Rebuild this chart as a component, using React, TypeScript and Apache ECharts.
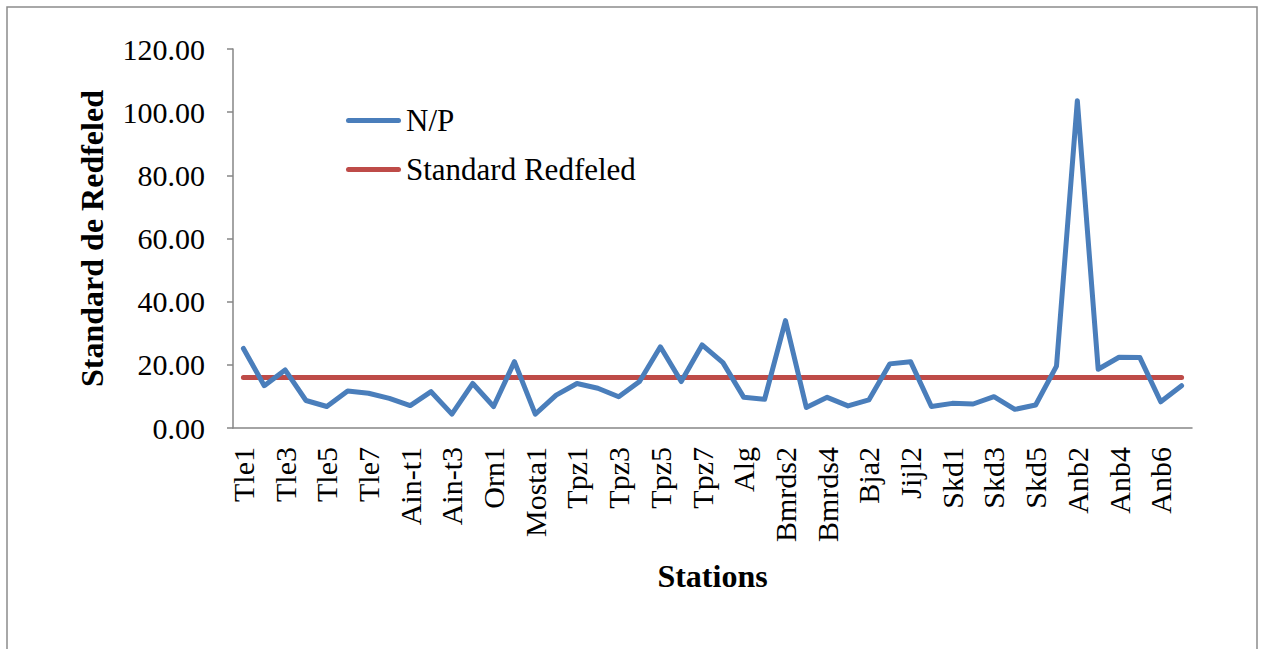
import React, { useEffect, useRef } from "react";
import * as echarts from "echarts";

const stations = [
  "Tle1", "Tle2", "Tle3", "Tle4", "Tle5", "Tle6", "Tle7", "Tle8",
  "Ain-t1", "Ain-t2", "Ain-t3", "Ain-t4", "Orn1", "Orn2", "Mosta1", "Mosta2",
  "Tpz1", "Tpz2", "Tpz3", "Tpz4", "Tpz5", "Tpz6", "Tpz7", "Tpz8",
  "Alg", "Bmrds1", "Bmrds2", "Bmrds3", "Bmrds4", "Bja1", "Bja2", "Jijl1",
  "Jijl2", "Jijl3", "Skd1", "Skd2", "Skd3", "Skd4", "Skd5", "Anb1",
  "Anb2", "Anb3", "Anb4", "Anb5", "Anb6", "Anb7",
];

const npValues = [
  25.2, 13.4, 18.4, 8.7, 6.8, 11.7, 11.0, 9.4,
  7.1, 11.5, 4.4, 14.1, 6.8, 21.0, 4.4, 10.4,
  14.1, 12.6, 9.9, 14.7, 25.7, 14.7, 26.3, 20.7,
  9.7, 9.1, 34.0, 6.5, 9.7, 7.0, 8.9, 20.3,
  21.0, 6.8, 7.8, 7.6, 9.9, 5.9, 7.3, 19.6,
  103.6, 18.6, 22.4, 22.3, 8.3, 13.4,
];

const redfieldValue = 16;
const redfieldValues = stations.map(() => redfieldValue);

const yTicks = { min: 0, max: 120, interval: 20 };

const FONT = '"Liberation Serif", "Times New Roman", serif';
const capsule = "path://M2.5,0 H52.5 A2.5,2.5 0 0 1 52.5,5 H2.5 A2.5,2.5 0 0 1 2.5,0 Z";

export default function App() {
  const ref = useRef<HTMLDivElement>(null);
  useEffect(() => {
    if (!ref.current) return;
    const chart = echarts.init(ref.current, null, { renderer: "svg" });
    chart.setOption({
      animation: false,
      backgroundColor: "#ffffff",
      graphic: [
        {
          type: "rect",
          shape: { x: 7, y: 7, width: 1250, height: 700 },
          style: { fill: "none", stroke: "#8c8c8c", lineWidth: 1.5 },
          silent: true,
        },
      ],
      grid: { left: 233, right: 72, top: 49, bottom: 221 },
      legend: {
        orient: "vertical",
        left: 346,
        top: 105,
        padding: 0,
        itemWidth: 55,
        itemHeight: 5,
        itemGap: 18,
        textStyle: { fontFamily: FONT, fontSize: 31, color: "#000" },
        data: [
          { name: "N/P", icon: capsule },
          { name: "Standard Redfeled", icon: capsule },
        ],
      },
      xAxis: {
        type: "category",
        data: stations,
        boundaryGap: true,
        name: "Stations",
        nameLocation: "middle",
        nameGap: 132,
        nameTextStyle: { fontFamily: FONT, fontSize: 32, fontWeight: "bold", color: "#000" },
        axisLine: { lineStyle: { color: "#868686", width: 1.5 } },
        axisTick: { show: false },
        axisLabel: {
          interval: 1,
          rotate: 90,
          margin: 19,
          fontFamily: FONT,
          fontSize: 30,
          color: "#000",
        },
        splitLine: { show: false },
      },
      yAxis: {
        type: "value",
        min: yTicks.min,
        max: yTicks.max,
        interval: yTicks.interval,
        name: "Standard de Redfeled",
        nameLocation: "middle",
        nameGap: 125,
        nameTextStyle: { fontFamily: FONT, fontSize: 32, fontWeight: "bold", color: "#000" },
        axisLine: { show: true, lineStyle: { color: "#868686", width: 1.5 } },
        axisTick: { show: true, length: 6, lineStyle: { color: "#868686", width: 1.5 } },
        axisLabel: {
          margin: 28,
          fontFamily: FONT,
          fontSize: 30,
          color: "#000",
          formatter: (v: number) => v.toFixed(2),
        },
        splitLine: { show: false },
      },
      series: [
        {
          name: "N/P",
          type: "line",
          data: npValues,
          symbol: "none",
          color: "#4a7ebb",
          lineStyle: { color: "#4a7ebb", width: 5, cap: "round", join: "round" },
          z: 3,
        },
        {
          name: "Standard Redfeled",
          type: "line",
          data: redfieldValues,
          symbol: "none",
          color: "#be4b48",
          lineStyle: { color: "#be4b48", width: 5, cap: "round", join: "round" },
          z: 2,
        },
      ],
    });
    return () => chart.dispose();
  }, []);
  return (
    <div
      ref={ref}
      style={{ position: "fixed", left: 0, top: 0, width: 1264, height: 649 }}
    />
  );
}
